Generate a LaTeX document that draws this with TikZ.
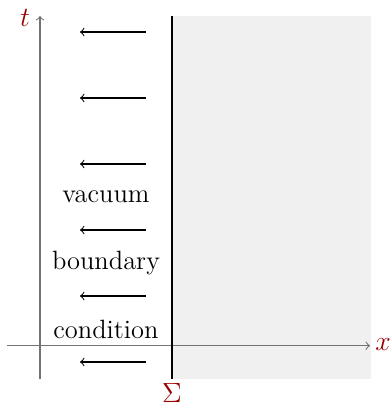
\documentclass[tikz,border=0pt]{standalone}
\begin{document}
\begin{tikzpicture}[x=0.4311pt,y=-0.4311pt,
  axis/.style={draw=black!55,line width=0.45pt,->},
  wall/.style={draw=black,line width=0.9pt},
  flux/.style={draw=black,line width=0.45pt,<-},
  lbl/.style={text=red!60!black,font=\fontsize{12}{14}\selectfont,inner sep=0pt},
  txt/.style={font=\fontsize{11.4}{13}\selectfont,inner sep=0pt}]
\useasboundingbox (0,0) rectangle (391,406);
\fill[black!6] (172,16) rectangle (371,379);
% axes
\coordinate (tb) at (40,379);
\coordinate (tt) at (40,16);
\coordinate (xl) at (7,345.7);
\coordinate (xr) at (370,345.7);
\draw[axis] (tb) -- (tt);
\draw[axis] (xl) -- (xr);
\node[lbl] (tlab) at (25,18) {$t$};
\node[lbl] (xlab) at (383,345) {$x$};
% boundary
\coordinate (st) at (172,16);
\coordinate (sb) at (172,379);
\draw[wall] (st) -- (sb);
\node[lbl] (sig) at (172,393) {$\Sigma$};
% arrows
\foreach \i/\y in {1/32,2/98,3/164,4/230,5/296,6/362}{
  \coordinate (a\i) at (80,\y);
  \coordinate (b\i) at (146,\y);
  \draw[flux] (a\i) -- (b\i);
}
\node[txt] (vac) at (106,197) {vacuum};
\node[txt] (bnd) at (106,263) {boundary};
\node[txt] (cnd) at (106,329) {condition};
\end{tikzpicture}
\end{document}
